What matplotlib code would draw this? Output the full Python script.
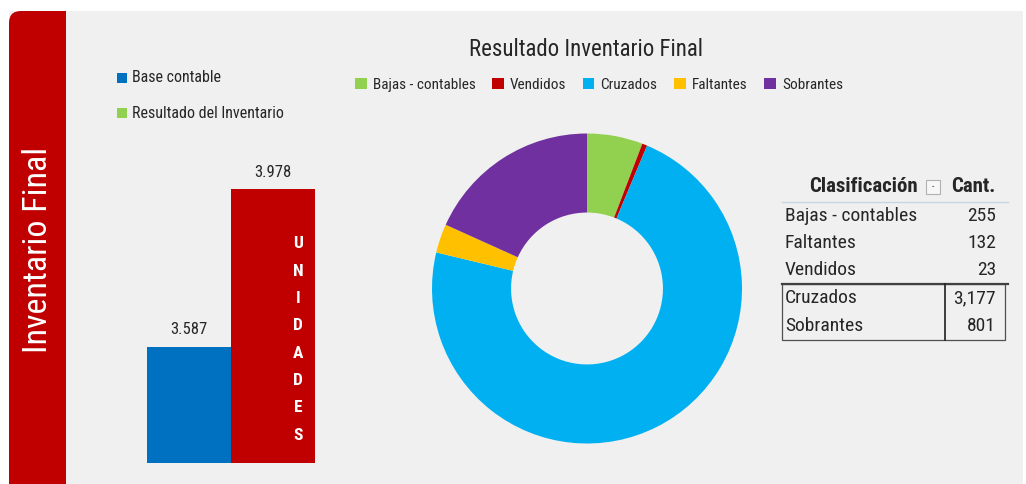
import matplotlib
matplotlib.use("Agg")
import matplotlib.pyplot as plt
from matplotlib.patches import FancyBboxPatch, Rectangle
from matplotlib.lines import Line2D
from matplotlib import font_manager

# ---- data ----
bar_labels = ["Base contable", "Resultado del Inventario"]
bar_values = [3587, 3978]
bar_value_text = ["3.587", "3.978"]

donut_labels = ["Bajas - contables", "Vendidos", "Cruzados", "Faltantes", "Sobrantes"]
donut_values = [255, 23, 3177, 132, 801]

table_labels = ["Bajas - contables", "Faltantes", "Vendidos", "Cruzados", "Sobrantes"]
table_values = ["255", "132", "23", "3,177", "801"]

# ---- style ----
avail = {f.name for f in font_manager.fontManager.ttflist}
fam = [f for f in ["Roboto Condensed", "Liberation Sans Narrow", "DejaVu Sans"] if f in avail]
plt.rcParams["font.family"] = fam
RED = "#c00000"
BLUE = "#0070c0"
GREEN = "#92d050"
donut_colors = ["#92d050", "#c00000", "#00b0f0", "#ffc000", "#7030a0"]
TXT = "#262626"
BG = "#f0f0f0"

W, H = 1026, 484
fig = plt.figure(figsize=(W / 100, H / 100), dpi=100, facecolor="white")

def px_axes(x0, y0, x1, y1, **kw):
    return fig.add_axes([x0 / W, 1 - y1 / H, (x1 - x0) / W, (y1 - y0) / H], **kw)

# background panel
bg = fig.add_axes([0, 0, 1, 1])
bg.set_xlim(0, W); bg.set_ylim(H, 0); bg.axis("off")
bg.add_patch(Rectangle((9, 11), 1014, 480, facecolor=BG, edgecolor="none"))
bg.add_patch(FancyBboxPatch((9 + 12, 11 + 12), 57 - 24, 500, boxstyle="round,pad=12",
                            facecolor=RED, edgecolor="none"))
bg.add_patch(Rectangle((45, 11), 21, 480, facecolor=RED, edgecolor="none"))
bg.text(38, 250, "Inventario Final", rotation=90, color="white", fontsize=24.5,
        ha="center", va="center")

# ---- bar chart ----
axb = px_axes(147, 120, 315, 463)
axb.set_xlim(-0.5, 1.5)
axb.set_ylim(3300, 4150)
axb.bar([0, 1], bar_values, width=1.0, color=[BLUE, RED], bottom=0)
axb.axis("off")
for i, (v, t) in enumerate(zip(bar_values, bar_value_text)):
    axb.annotate(t, (i, v), xytext=(0, 7), textcoords="offset points",
                 ha="center", va="bottom", fontsize=12, color=TXT)
axb.text(1.3, 3300 + (4150 - 3300) * 0.36, "\n".join("UNIDADES"), color="white",
         fontsize=12.5, fontweight="bold", ha="center", va="center", linespacing=2.03,
         transform=axb.transData)
# bar legend
for j, (lab, c) in enumerate(zip(bar_labels, [BLUE, GREEN])):
    y = 78 + 35 * j
    bg.add_patch(Rectangle((117, y - 5), 10, 10, facecolor=c, edgecolor="none"))
    bg.text(132, y, lab, fontsize=11.5, color=TXT, va="center", ha="left")

# ---- donut ----
cx, cy, r = 587, 288.5, 155
axp = px_axes(cx - r, cy - r, cx + r, cy + r)
wedges, _ = axp.pie(donut_values, colors=donut_colors, startangle=90, counterclock=False,
                    radius=1, wedgeprops=dict(width=0.51, edgecolor="none"))
axp.set_xlim(-1, 1); axp.set_ylim(-1, 1)
bg.text(586, 50, "Resultado Inventario Final", fontsize=16.5, color=TXT, ha="center", va="center")
handles = [Rectangle((0, 0), 1, 1, facecolor=c, edgecolor="none") for c in donut_colors]
leg = fig.legend(handles, donut_labels, ncol=5, loc="center", bbox_to_anchor=(599 / W, 1 - 85 / H),
                 frameon=False, fontsize=11, handlelength=0.75, handleheight=0.75,
                 handletextpad=0.4, columnspacing=1.1)
for t in leg.get_texts():
    t.set_color(TXT)

# ---- table ----
bg.text(863, 186, "Clasificación", fontsize=15, fontweight="bold", color=TXT, ha="center", va="center")
bg.text(996, 186, "Cant.", fontsize=15, fontweight="bold", color=TXT, ha="right", va="center")
bg.add_patch(Rectangle((926, 180), 14, 14, facecolor="#f7f7f7", edgecolor="#b0b0b0", lw=0.8))
bg.text(933, 187, "-", fontsize=7, color="#555555", ha="center", va="center")
bg.add_line(Line2D([782, 1008], [202, 202], color="#c8d4e0", lw=1))
row_y = [216, 243, 270, 298, 326]
for y, lab, val in zip(row_y, table_labels, table_values):
    bg.text(785, y, lab, fontsize=14, color=TXT, ha="left", va="center")
    bg.text(996, y, val, fontsize=14, color=TXT, ha="right", va="center")
bg.add_line(Line2D([782, 1008], [284, 284], color="#404040", lw=1.6))
bg.add_patch(Rectangle((782, 284), 223, 56, facecolor="none", edgecolor="#505050", lw=0.9))
bg.add_line(Line2D([945, 945], [284, 340], color="#202020", lw=1.2))

fig.savefig("out.png", dpi=100, facecolor="white")
